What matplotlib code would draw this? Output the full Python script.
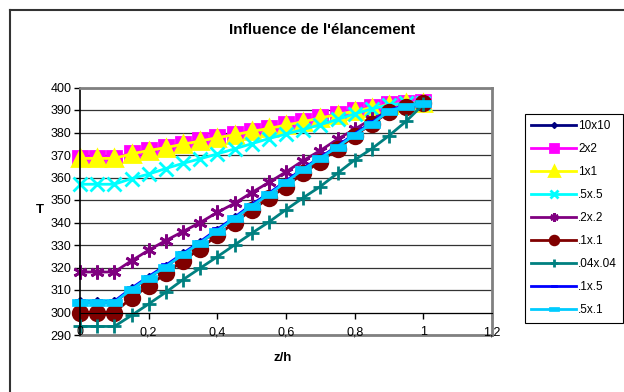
import matplotlib.pyplot as plt
from matplotlib.lines import Line2D
from matplotlib.path import Path
from matplotlib.transforms import blended_transform_factory

plt.rcParams['font.family'] = ['Liberation Sans', 'DejaVu Sans']

# z/h positions
zh = [0, 0.05, 0.1, 0.15, 0.2, 0.25, 0.3, 0.35, 0.4, 0.45, 0.5,
      0.55, 0.6, 0.65, 0.7, 0.75, 0.8, 0.85, 0.9, 0.95, 1.0]

t_10x10 = [304.5, 304.5, 304.5, 310.3, 315.5, 320.4, 325.8, 331.0, 336.4, 341.8, 347.4,
           352.5, 358.0, 363.6, 368.6, 373.6, 379.0, 384.0, 389.5, 391.8, 393]
t_2x2 = [368.8, 368.8, 368.8, 370.8, 372.3, 373.6, 375.1, 376.5, 378.0, 379.3, 380.8,
         382.1, 383.6, 385.1, 386.8, 388.3, 389.8, 391.3, 392.6, 393.3, 393.5]
t_1x1 = [368.5, 368.5, 368.5, 370.5, 372.0, 373.3, 374.8, 376.2, 377.7, 379.0, 380.5,
         381.8, 383.3, 384.8, 386.5, 388.0, 389.5, 391.0, 392.3, 393.0, 393.2]
t_5x5 = [357, 357, 357, 359.5, 361.5, 364.0, 366.3, 368.3, 370.5, 372.7, 375.0,
         377.3, 379.3, 381.3, 383.5, 385.8, 388.3, 390.5, 392.3, 393.0, 393.2]
t_2x2b = [318, 318, 318, 323.0, 327.7, 332.0, 336.0, 340.0, 344.5, 348.5, 353.3,
          357.8, 362.5, 367.5, 372.0, 377.0, 381.5, 386.0, 389.5, 391.8, 393]
t_1x1b = [300, 300, 300, 306.5, 311.8, 317.4, 323.0, 328.4, 334.3, 340.0, 345.5,
          350.8, 356.0, 362.0, 367.0, 372.8, 378.5, 384.0, 389.0, 391.5, 393]
t_04x04 = [293.8, 293.8, 293.8, 298.7, 303.8, 309.0, 314.6, 319.7, 324.8, 330.0, 335.2,
           340.2, 345.7, 351.0, 356.0, 361.9, 367.8, 372.8, 378.6, 385.0, 392.5]
t_1x5 = [305, 305, 305, 310.8, 316.0, 321.0, 326.3, 331.5, 337.0, 342.3, 348.0,
         353.0, 358.5, 364.0, 369.0, 374.0, 379.5, 384.5, 390.0, 392.0, 393]
t_5x1 = [304.5, 304.5, 304.5, 310.3, 315.5, 320.4, 325.8, 331.0, 336.4, 341.8, 347.4,
         352.5, 358.0, 363.6, 368.6, 373.6, 379.0, 384.0, 389.5, 391.8, 393]

labels = ['10x10', '2x2', '1x1', '.5x.5', '.2x.2', '.1x.1', '.04x.04', '.1x.5', '.5x.1']
colors = ['#000080', '#FF00FF', '#FFFF00', '#00FFFF', '#800080', '#800000',
          '#008080', '#0000FF', '#00CCFF']

dash = Path([(-1, -0.42), (1, -0.42), (1, 0.42), (-1, 0.42), (-1, -0.42)],
            [Path.MOVETO, Path.LINETO, Path.LINETO, Path.LINETO, Path.CLOSEPOLY])
markers = ['D', 's', '^', 'x', (6, 2, 0), 'o', '+', dash, dash]
msizes = [5, 10, 11, 10, 10, 10.5, 10, 7, 12]
medges = [1, 2, 2, 2, 2, 2, 2, 0.5, 0.5]

series = [t_10x10, t_2x2, t_1x1, t_5x5, t_2x2b, t_1x1b, t_04x04, t_1x5, t_5x1]

fig = plt.figure(figsize=(6.24, 3.92), dpi=100)
ax = fig.add_axes([80 / 624, 1 - 335 / 392, 412 / 624, 247.5 / 392])

for vals, lab, c, m, ms, mw in zip(series, labels, colors, markers, msizes, medges):
    ax.plot(zh, vals, color=c, lw=2, marker=m, ms=ms, mfc=c, mec=c,
            mew=mw, label=lab, clip_on=False)

ax.set_xlim(0, 1.2)
ax.set_ylim(290, 400)
ax.set_yticks(range(290, 401, 10))
ax.set_xticks([0, 0.2, 0.4, 0.6, 0.8, 1.0, 1.2])
ax.set_xticklabels([])
ax.grid(axis='y', color='#333333', lw=0.9)
ax.set_axisbelow(True)
ax.tick_params(axis='y', labelsize=9, length=4, width=1, direction='out', pad=2)
ax.tick_params(axis='x', length=4, width=1, direction='out')

# x axis crosses at T = 300, labels sit at the bottom edge
ax.spines['bottom'].set_position(('data', 300))
ax.spines['bottom'].set_color('black')
ax.spines['left'].set_color('black')
ax.spines['left'].set_linewidth(1.2)
for s in ['top', 'right']:
    ax.spines[s].set_color('#808080')
    ax.spines[s].set_linewidth(2)
ax.axhline(290, color='#808080', lw=2, clip_on=False)

tr = blended_transform_factory(ax.transData, ax.transAxes)
for x in ax.get_xticks():
    lbl = ('%g' % x).replace('.', ',')
    ax.text(x, 0.012, lbl, transform=tr, ha='center', va='center', fontsize=9)

fig.text(322 / 624, 1 - 30 / 392, "Influence de l'élancement", ha='center', va='center',
         fontsize=11, fontweight='bold')
fig.text(40 / 624, 1 - 210 / 392, 'T', ha='center', va='center', fontsize=9.5,
         fontweight='bold')
fig.text(283 / 624, 1 - 358 / 392, 'z/h', ha='center', va='center', fontsize=9.5,
         fontweight='bold')

leg = ax.legend(loc='upper left', bbox_to_anchor=(525 / 624, 1 - 114 / 392),
                bbox_transform=fig.transFigure, borderaxespad=0, fontsize=8.5,
                markerscale=0.6, handlelength=3.8, handletextpad=0.15,
                labelspacing=0.93, borderpad=0.55, fancybox=False, framealpha=1)
leg.get_frame().set_edgecolor('black')
leg.get_frame().set_linewidth(0.8)

# outer chart frame (only left and top edges fall inside the picture)
x0, y0 = 9.5 / 624, 1 - 9.5 / 392
fig.add_artist(Line2D([x0, x0], [0, y0], transform=fig.transFigure, color='#333333', lw=1.5))
fig.add_artist(Line2D([x0, 1], [y0, y0], transform=fig.transFigure, color='#333333', lw=1.5))

fig.savefig('out.png', dpi=100)
